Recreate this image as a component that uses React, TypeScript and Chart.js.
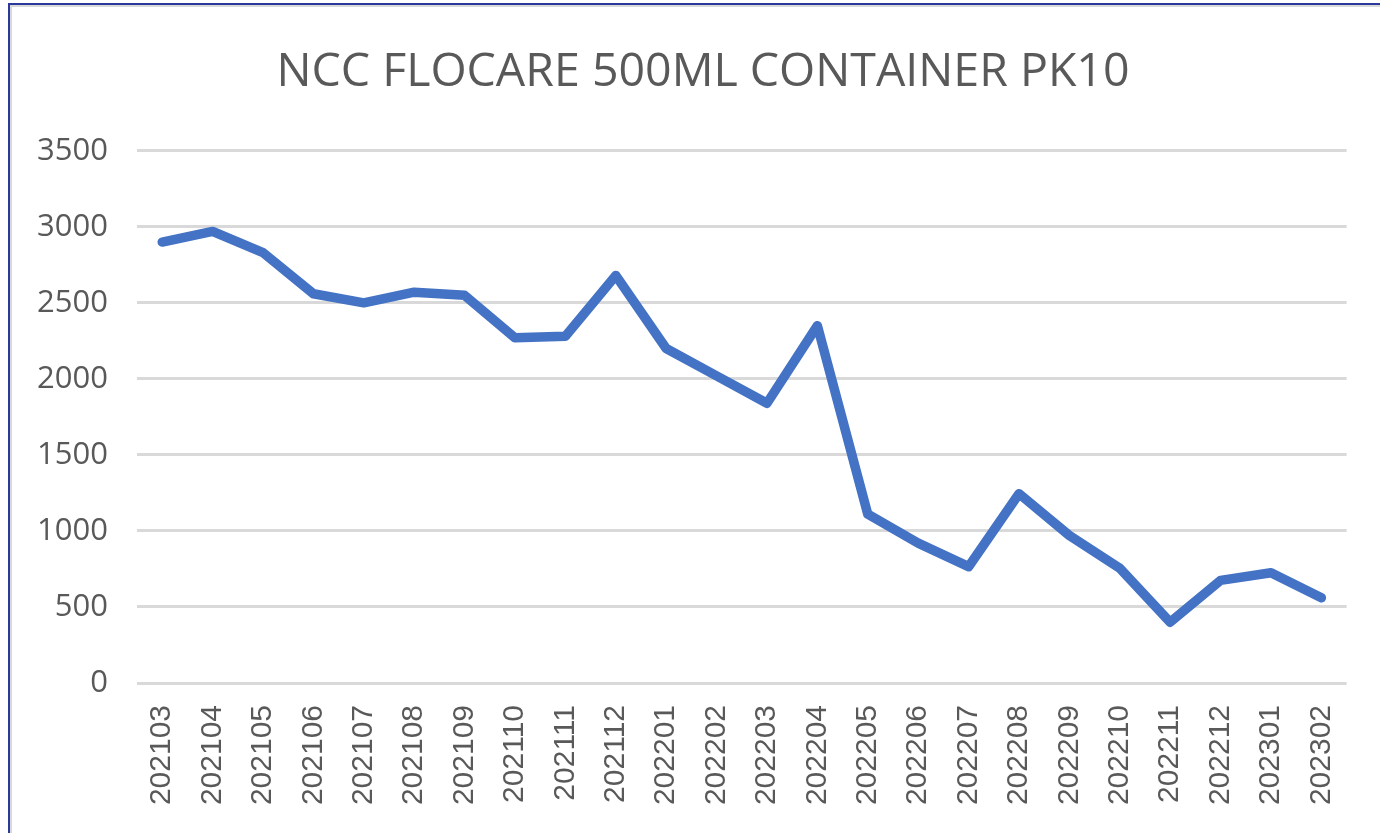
import React, { useEffect, useRef } from "react";
import { Chart, registerables } from "chart.js";

Chart.register(...registerables);

const titleText = "NCC FLOCARE 500ML CONTAINER PK10";
const months = [
  "202103", "202104", "202105", "202106", "202107", "202108", "202109", "202110",
  "202111", "202112", "202201", "202202", "202203", "202204", "202205", "202206",
  "202207", "202208", "202209", "202210", "202211", "202212", "202301", "202302",
];
const quantities = [
  2900, 2970, 2830, 2560, 2500, 2570, 2550, 2270,
  2280, 2680, 2200, 2020, 1840, 2350, 1110, 920,
  765, 1245, 970, 755, 400, 675, 725, 560,
];
const yMin = 0;
const yMax = 3500;
const yStep = 500;

export default function App() {
  const canvasRef = useRef<HTMLCanvasElement | null>(null);

  useEffect(() => {
    if (!canvasRef.current) return;
    const chart = new Chart(canvasRef.current, {
      type: "line",
      data: {
        labels: months,
        datasets: [
          {
            label: "Qty",
            data: quantities,
            borderColor: "#4472C4",
            backgroundColor: "#4472C4",
            borderWidth: 9.5,
            pointRadius: 0,
            tension: 0,
            borderJoinStyle: "round",
            borderCapStyle: "round",
          },
        ],
      },
      options: {
        responsive: false,
        animation: false,
        layout: { padding: { left: 26, right: 0, top: 0, bottom: 0 } },
        plugins: {
          legend: { display: false },
          tooltip: { enabled: false },
          title: {
            display: true,
            text: titleText,
            color: "#595959",
            font: { family: "'Open Sans'", size: 46.5, weight: "normal" },
            padding: { top: 45, bottom: 50 },
          },
        },
        scales: {
          x: {
            offset: true,
            grid: { display: false, drawTicks: false },
            border: { display: false },
            ticks: {
              color: "#595959",
              font: { family: "'Liberation Sans'", size: 30 },
              minRotation: 90,
              maxRotation: 90,
              padding: 22,
              autoSkip: false,
            },
            afterFit: (scale: any) => {
              scale.height = 150;
            },
          },
          y: {
            min: yMin,
            max: yMax,
            grid: { color: "#D9D9D9", lineWidth: 3, drawTicks: false },
            border: { display: false },
            ticks: {
              stepSize: yStep,
              color: "#595959",
              font: { family: "'Open Sans'", size: 31 },
              padding: 29,
              callback: (value: any) => String(value),
            },
            afterFit: (scale: any) => {
              scale.width = 111;
            },
          },
          yRightSpacer: {
            position: "right",
            min: yMin,
            max: yMax,
            grid: { display: false, drawTicks: false },
            border: { display: false },
            ticks: { display: false },
            afterFit: (scale: any) => {
              scale.width = 30;
            },
          },
        },
      },
    });
    return () => chart.destroy();
  }, []);

  return (
    <div style={{ position: "fixed", left: 0, top: 0, width: 1380, height: 833, background: "#fff" }}>
      <canvas ref={canvasRef} width={1380} height={833} style={{ display: "block" }} />
      <div
        style={{
          position: "absolute",
          left: 8,
          top: 3,
          right: 0,
          bottom: 0,
          borderTop: "2px solid #2B3A9A",
          borderLeft: "2px solid #2B3A9A",
          boxShadow: "inset 2px 2px 0 #D9D9D9",
          pointerEvents: "none",
        }}
      />
    </div>
  );
}
